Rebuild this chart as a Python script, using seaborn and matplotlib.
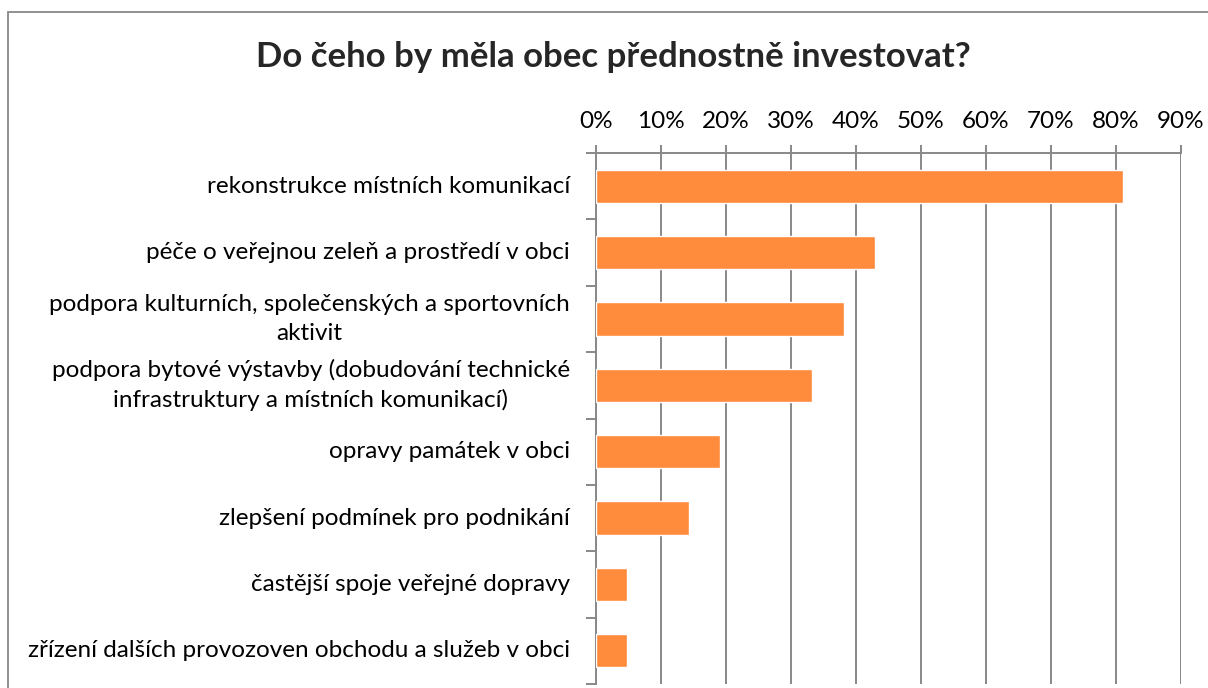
import numpy as np
import pandas as pd
import matplotlib
matplotlib.use("Agg")
import matplotlib.pyplot as plt
import seaborn as sns
from matplotlib.patches import Rectangle
from matplotlib.ticker import FixedLocator, PercentFormatter

categories = [
    "rekonstrukce místních komunikací",
    "péče o veřejnou zeleň a prostředí v obci",
    "podpora kulturních, společenských a sportovních\naktivit",
    "podpora bytové výstavby (dobudování technické\ninfrastruktury a místních komunikací)",
    "opravy památek v obci",
    "zlepšení podmínek pro podnikání",
    "častější spoje veřejné dopravy",
    "zřízení dalších provozoven obchodu a služeb v obci",
]
shares = [81.0, 42.9, 38.1, 33.3, 19.0, 14.3, 4.8, 4.8]
x_ticks = [0, 10, 20, 30, 40, 50, 60, 70, 80, 90]
title = "Do čeho by měla obec přednostně investovat?"

df = pd.DataFrame({"kategorie": categories, "podil": shares})

sns.set_theme(style="white")
plt.rcParams["font.family"] = ["Lato", "DejaVu Sans"]

fig = plt.figure(figsize=(12.08, 6.88), dpi=100)
ax = fig.add_axes([596 / 1208, 1 - 684 / 688, (1181 - 596) / 1208, (684 - 153) / 688])

sns.barplot(data=df, x="podil", y="kategorie", orient="h", color="#FF8B3D",
            saturation=1, width=0.5, ax=ax, zorder=3)

ax.set_xlim(0, 90)
ax.set_ylim(len(categories) - 0.5, -0.5)
ax.xaxis.set_major_locator(FixedLocator(x_ticks))
ax.xaxis.set_major_formatter(PercentFormatter(decimals=0))
ax.xaxis.tick_top()
ax.grid(axis="x", color="#888888", linewidth=1.4, zorder=0)
ax.set_xlabel("")
ax.set_ylabel("")

ax.tick_params(axis="x", which="major", top=True, bottom=False, direction="out",
               length=6, width=1.4, color="#888888", labelsize=17.5, pad=9,
               labelcolor="black")
ax.set_yticks(np.arange(len(categories) + 1) - 0.5, minor=True)
ax.tick_params(axis="y", which="minor", left=True, length=7, width=1.4,
               color="#888888")
ax.tick_params(axis="y", which="major", length=0, labelleft=False)

# category labels: right aligned block, lines centred like in Excel
for i, name in enumerate(categories):
    ax.annotate(name, xy=(0, i), xycoords=("axes fraction", "data"),
                xytext=(-26, 0), textcoords="offset pixels",
                ha="right", va="center", multialignment="center",
                linespacing=1.45, fontsize=17.5, color="black")

for side in ["right", "bottom"]:
    ax.spines[side].set_visible(False)
for side in ["top", "left"]:
    ax.spines[side].set_color("#888888")
    ax.spines[side].set_linewidth(1.4)

fig.text(613 / 1208, 1 - 57 / 688, title, ha="center", va="center",
         fontsize=25, fontweight="bold")

fig.patches.append(Rectangle((8 / 1208, -0.1), 1.2, 1 - 12 / 688 + 0.1,
                             transform=fig.transFigure, fill=False,
                             edgecolor="#888888", linewidth=1.3))

fig.savefig("out.png", dpi=100)
